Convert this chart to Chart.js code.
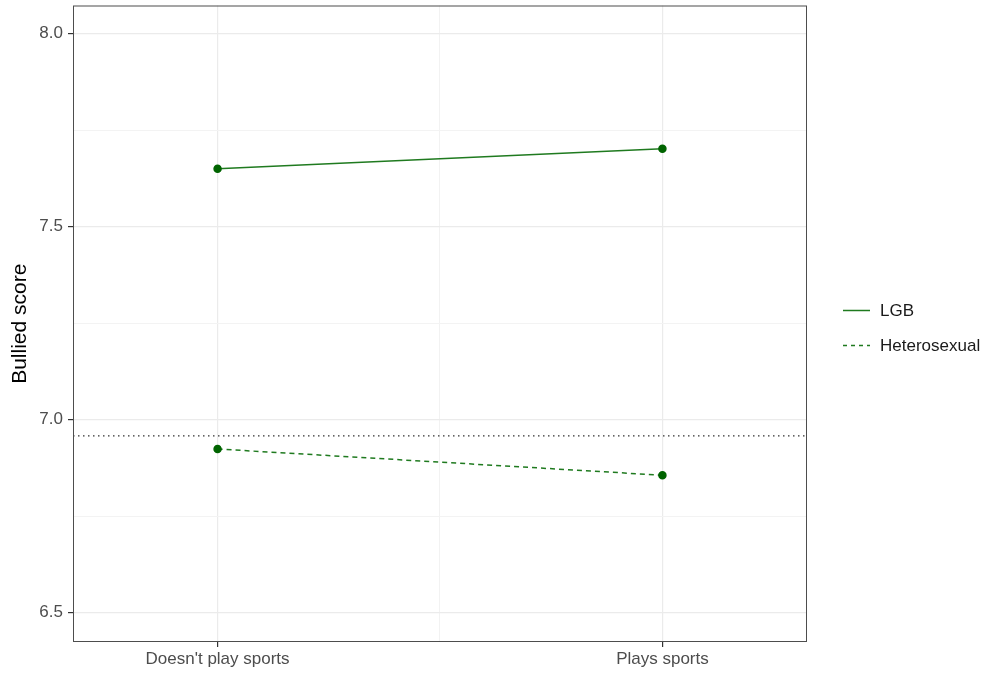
<!DOCTYPE html>
<html>
<head>
<meta charset="utf-8">
<script src="https://cdn.jsdelivr.net/npm/chart.js@4"></script>
<style>
  html, body { margin: 0; padding: 0; background: #fff; }
  #wrap { width: 984px; height: 674px; }
</style>
</head>
<body>
<div id="wrap"><canvas id="bulliedChart" width="984" height="674"></canvas></div>
<script>
// categories on the x axis (placed at x = 1, 2)
var categories = ["Doesn't play sports", 'Plays sports'];
var categoryPos = [1, 2];

// series values
var lgbValues = [7.650, 7.702];
var heteroValues = [6.924, 6.856];
var referenceLine = 6.958;

// axis ticks
var yMajorTicks = [6.5, 7.0, 7.5, 8.0];
var yMinorTicks = [6.75, 7.25, 7.75];
var xMinorTicks = [1.5];
var xRange = [0.675, 2.325];
var yRange = [6.424, 8.073];

var lineColor = '#1f7a1f';
var pointColor = '#006400';
var fontFamily = '"Liberation Sans", Arial, sans-serif';

function toPoints(vals) {
    return vals.map(function (v, i) { return { x: categoryPos[i], y: v }; });
}

function isMajorY(v) {
    return yMajorTicks.some(function (m) { return Math.abs(m - v) < 1e-6; });
}
function isMajorX(v) {
    return categoryPos.some(function (m) { return Math.abs(m - v) < 1e-6; });
}

// panel border + legend on the right
var panelPlugin = {
    id: 'panelPlugin',
    afterDraw: function (chart) {
        var ctx = chart.ctx;
        var a = chart.chartArea;
        ctx.save();
        ctx.strokeStyle = '#4d4d4d';
        ctx.lineWidth = 1;
        ctx.strokeRect(a.left + 0.5, a.top + 0.5, a.right - a.left - 1, a.bottom - a.top - 1);

        var items = [
            { label: 'LGB', dash: [], y: 310 },
            { label: 'Heterosexual', dash: [4, 4], y: 345 }
        ];
        ctx.font = '17px ' + fontFamily;
        ctx.textBaseline = 'middle';
        ctx.fillStyle = '#1a1a1a';
        items.forEach(function (it) {
            ctx.beginPath();
            ctx.setLineDash(it.dash);
            ctx.strokeStyle = lineColor;
            ctx.lineWidth = 1.5;
            ctx.moveTo(843, it.y + 0.5);
            ctx.lineTo(870, it.y + 0.5);
            ctx.stroke();
            ctx.setLineDash([]);
            ctx.fillText(it.label, 880, it.y + 1);
        });
        ctx.restore();
    }
};

var ctx = document.getElementById('bulliedChart').getContext('2d');
var myChart = new Chart(ctx, {
    type: 'line',
    data: {
        datasets: [{
            label: 'LGB',
            data: toPoints(lgbValues),
            borderColor: lineColor,
            borderWidth: 1.5,
            pointBackgroundColor: pointColor,
            pointBorderColor: pointColor,
            pointRadius: 3.5,
            fill: false
        }, {
            label: 'Heterosexual',
            data: toPoints(heteroValues),
            borderColor: lineColor,
            borderWidth: 1.5,
            borderDash: [5, 4],
            pointBackgroundColor: pointColor,
            pointBorderColor: pointColor,
            pointRadius: 3.5,
            fill: false
        }, {
            label: 'reference',
            data: [{ x: xRange[0], y: referenceLine }, { x: xRange[1], y: referenceLine }],
            borderColor: '#333333',
            borderWidth: 1.3,
            borderDash: [1.5, 3.5],
            pointRadius: 0,
            fill: false,
            order: 5
        }]
    },
    options: {
        responsive: false,
        animation: false,
        layout: {
            padding: { top: 5, right: 177, bottom: 0, left: 0 }
        },
        scales: {
            x: {
                type: 'linear',
                min: xRange[0],
                max: xRange[1],
                afterBuildTicks: function (scale) {
                    scale.ticks = categoryPos.concat(xMinorTicks).map(function (v) { return { value: v }; });
                },
                afterFit: function (scale) {
                    scale.height = 32;
                    scale.paddingLeft = 0;
                    scale.paddingRight = 0;
                },
                border: { display: false },
                grid: {
                    color: function (c) { return isMajorX(c.tick.value) ? '#ebebeb' : '#f2f2f2'; },
                    lineWidth: function (c) { return isMajorX(c.tick.value) ? 1.2 : 1; },
                    tickColor: function (c) { return isMajorX(c.tick.value) ? '#333333' : 'rgba(0,0,0,0)'; },
                    tickLength: 5,
                    drawTicks: true
                },
                ticks: {
                    autoSkip: false,
                    maxRotation: 0,
                    padding: 2,
                    color: '#4d4d4d',
                    font: { family: fontFamily, size: 17 },
                    callback: function (v) {
                        var i = categoryPos.indexOf(v);
                        return i >= 0 ? categories[i] : '';
                    }
                }
            },
            y: {
                type: 'linear',
                min: yRange[0],
                max: yRange[1],
                afterBuildTicks: function (scale) {
                    scale.ticks = yMajorTicks.concat(yMinorTicks).sort().map(function (v) { return { value: v }; });
                },
                afterFit: function (scale) {
                    scale.width = 73;
                    scale.paddingTop = 0;
                    scale.paddingBottom = 0;
                },
                border: { display: false },
                grid: {
                    color: function (c) { return isMajorY(c.tick.value) ? '#ebebeb' : '#f3f3f3'; },
                    lineWidth: function (c) { return isMajorY(c.tick.value) ? 1.2 : 1; },
                    tickColor: function (c) { return isMajorY(c.tick.value) ? '#333333' : 'rgba(0,0,0,0)'; },
                    tickLength: 5
                },
                ticks: {
                    padding: 5,
                    color: '#4d4d4d',
                    font: { family: fontFamily, size: 17 },
                    callback: function (v) {
                        return isMajorY(v) ? v.toFixed(1) : '';
                    }
                },
                title: {
                    display: true,
                    text: 'Bullied score',
                    color: '#000000',
                    padding: { top: 8, bottom: 0 },
                    font: { family: fontFamily, size: 21 }
                }
            }
        },
        plugins: {
            legend: { display: false },
            tooltip: { enabled: false }
        }
    },
    plugins: [panelPlugin]
});
</script>
</body>
</html>
